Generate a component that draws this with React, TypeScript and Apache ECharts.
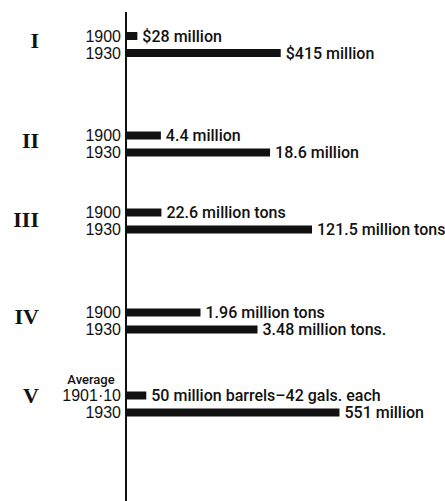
import React, { useEffect, useRef } from "react";
import * as echarts from "echarts";

const groups = ["I", "II", "III", "IV", "V"];
const yearLabels = [
  ["1900", "1930"],
  ["1900", "1930"],
  ["1900", "1930"],
  ["1900", "1930"],
  ["1901·10", "1930"],
];
const values = [
  [28, 415],
  [4.4, 18.6],
  [22.6, 121.5],
  [1.96, 3.48],
  [50, 551],
];
const valueLabels = [
  ["$28 million", "$415 million"],
  ["4.4 million", "18.6 million"],
  ["22.6 million tons", "121.5 million tons"],
  ["1.96 million tons", "3.48 million tons."],
  ["50 million barrels–42 gals. each", "551 million"],
];
const scaleMax = [810, 39, 197, 8.0, 778];

const gridTops = [27.5, 127, 204, 304, 387];
const numeralY = [40, 140, 219.5, 316, 395.5];

export default function App() {
  const ref = useRef<HTMLDivElement>(null);
  useEffect(() => {
    if (!ref.current) return;
    const chart = echarts.init(ref.current, null, { renderer: "svg" });
    const ink = "#111";
    const sans = "'Liberation Sans', Arial, sans-serif";
    const grid = groups.map((_, i) => ({
      left: 127,
      width: 300,
      top: gridTops[i],
      height: 34,
    }));
    const xAxis = groups.map((_, i) => ({
      type: "value" as const,
      gridIndex: i,
      min: 0,
      max: scaleMax[i],
      show: false,
    }));
    const yAxis = groups.map((_, i) => ({
      type: "category" as const,
      gridIndex: i,
      data: yearLabels[i],
      inverse: true,
      axisLine: { show: false },
      axisTick: { show: false },
      splitLine: { show: false },
      axisLabel: {
        interval: 0,
        hideOverlap: false,
        margin: 6,
        color: ink,
        fontSize: 16,
        fontFamily: sans,
        padding: [0, 0, 2, 0],
      },
    }));
    const series = groups.map((_, i) => ({
      type: "bar" as const,
      xAxisIndex: i,
      yAxisIndex: i,
      data: values[i],
      barWidth: 8,
      itemStyle: { color: ink },
      label: {
        show: true,
        position: "right" as const,
        distance: 5,
        color: ink,
        fontSize: 16,
        fontWeight: 500,
        fontFamily: "Roboto, 'Liberation Sans', sans-serif",
        formatter: (p: any) => valueLabels[i][p.dataIndex],
      },
    }));
    const graphic: any[] = [
      {
        type: "line",
        shape: { x1: 126, y1: 12, x2: 126, y2: 501 },
        style: { stroke: ink, lineWidth: 2 },
      },
      {
        type: "text",
        x: 91,
        y: 379,
        style: {
          text: "Average",
          fill: ink,
          font: `500 13px Roboto, ${sans}`,
          textAlign: "center",
          textVerticalAlign: "middle",
        },
      },
      ...groups.map((g, i) => ({
        type: "text",
        x: 39,
        y: numeralY[i],
        style: {
          text: g,
          fill: ink,
          font: `bold 22px 'Liberation Serif', 'DejaVu Serif', serif`,
          textAlign: "right",
          textVerticalAlign: "middle",
        },
      })),
    ];
    chart.setOption({
      animation: false,
      backgroundColor: "#ffffff",
      grid,
      xAxis,
      yAxis,
      series,
      graphic,
    });
    return () => chart.dispose();
  }, []);
  return (
    <div
      ref={ref}
      style={{ position: "fixed", left: 0, top: 0, width: 445, height: 501 }}
    />
  );
}
